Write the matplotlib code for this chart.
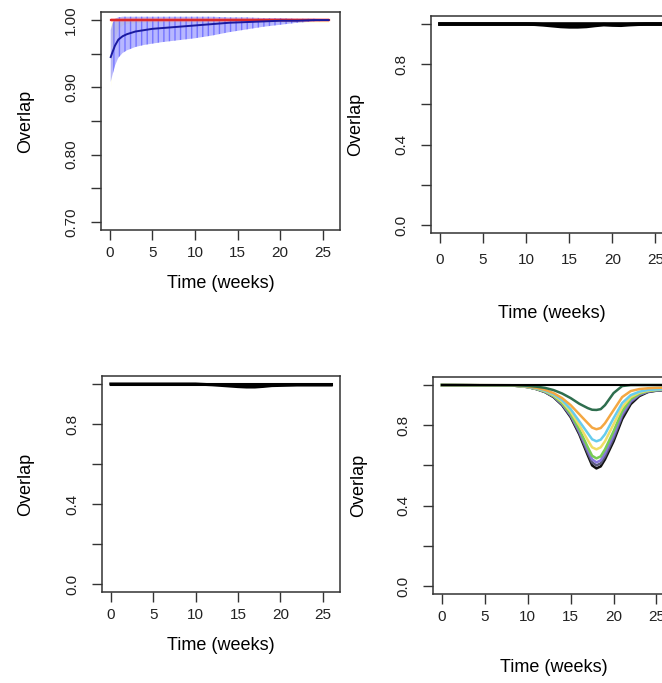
import matplotlib
matplotlib.use("Agg")
import matplotlib.pyplot as plt

plt.rcParams["font.family"] = ["Liberation Sans", "DejaVu Sans"]

W, H = 662, 683

# ── top-left: mean overlap with band, reference at 1 ──
tl_t    = [0.1, 0.3, 0.6, 1, 1.5, 2, 3, 4, 5, 6, 8, 10, 12, 14, 16, 18, 20, 22, 24, 25.7]
tl_mean = [0.945, 0.952, 0.962, 0.971, 0.976, 0.979, 0.983, 0.985, 0.987, 0.988,
           0.990, 0.992, 0.994, 0.996, 0.997, 0.998, 0.999, 0.999, 1.0, 1.0]
tl_lo   = [0.908, 0.918, 0.932, 0.944, 0.951, 0.955, 0.960, 0.963, 0.965, 0.967,
           0.970, 0.973, 0.977, 0.982, 0.986, 0.990, 0.993, 0.996, 0.998, 0.999]
tl_hi   = [0.985, 0.995, 1.002, 1.004, 1.005, 1.005, 1.005, 1.005, 1.005, 1.005,
           1.005, 1.005, 1.005, 1.004, 1.004, 1.003, 1.003, 1.002, 1.002, 1.001]
tl_ref    = [1.0] * 20
tl_ref_lo = [0.900, 0.950, 0.975, 0.988, 0.993, 0.995, 0.996, 0.997, 0.997, 0.997,
             0.997, 0.997, 0.997, 0.997, 0.997, 0.997, 0.997, 0.997, 0.997, 0.997]
tl_band_lo = [0.997] * 20
tl_band_hi = [1.003] * 20

# ── top-right / bottom-left: overlapping black curves near 1 ──
flat_t = [0, 5, 10, 11, 12, 13, 14, 15, 16, 17, 18, 19, 20, 21, 22, 23, 24, 26]
flat_a = [1.0] * 18
tr_b = [1.0, 1.0, 1.0, 0.999, 0.996, 0.992, 0.988, 0.986, 0.986, 0.988, 0.993, 0.997,
        0.995, 0.994, 0.997, 0.999, 1.0, 1.0]
bl_b = [1.0, 1.0, 1.0, 0.998, 0.996, 0.993, 0.990, 0.987, 0.985, 0.985, 0.988, 0.992,
        0.993, 0.994, 0.995, 0.995, 0.995, 0.995]

# ── bottom-right: dips around week 17-18 ──
br_t = [0, 8, 9, 10, 11, 12, 13, 14, 15, 16, 17, 17.5, 18, 18.5, 19, 20, 21, 22, 23, 24, 25, 26]
br_curves = {
    "#111111": [1.0, .998, .995, .990, .980, .965, .940, .900, .840, .755, .650, .600, .585, .595,
                .630, .720, .830, .905, .945, .965, .972, .975],
    "#5a5a7a": [1.0, .998, .995, .990, .980, .966, .942, .903, .845, .762, .662, .615, .600, .610,
                .645, .735, .845, .915, .950, .967, .973, .976],
    "#8877dd": [1.0, .998, .995, .990, .981, .967, .944, .906, .850, .770, .675, .630, .615, .625,
                .660, .750, .855, .920, .953, .968, .974, .977],
    "#77cc55": [1.0, .998, .995, .990, .981, .968, .946, .910, .856, .780, .690, .648, .635, .645,
                .680, .770, .870, .930, .957, .970, .975, .978],
    "#eedd66": [1.0, .998, .995, .990, .982, .970, .950, .918, .868, .800, .725, .690, .680, .690,
                .720, .805, .890, .940, .962, .972, .977, .979],
    "#66ccee": [1.0, .998, .996, .991, .983, .972, .954, .925, .880, .820, .760, .730, .720, .728,
                .755, .835, .910, .950, .967, .975, .978, .980],
    "#f4a742": [1.0, .999, .997, .993, .986, .976, .960, .935, .900, .855, .810, .788, .780, .786,
                .810, .875, .940, .970, .980, .984, .986, .987],
    "#2e6e4e": [1.0, .999, .998, .996, .992, .986, .975, .958, .935, .907, .885, .877, .876, .880,
                .900, .960, .995, 1.0, 1.0, 1.0, 1.0, 1.0],
}
br_ref = [1.0] * 22

x_ticks = [0, 5, 10, 15, 20, 25]
tl_yticks = [0.70, 0.75, 0.80, 0.85, 0.90, 0.95, 1.00]
tl_ylabels = ["0.70", "", "0.80", "", "0.90", "", "1.00"]
yticks = [0.0, 0.2, 0.4, 0.6, 0.8, 1.0]
ylabels = ["0.0", "", "0.4", "", "0.8", ""]

fig = plt.figure(figsize=(W / 100, H / 100), dpi=100)


def make_ax(l, t, r, b):
    return fig.add_axes([l / W, 1 - b / H, (r - l) / W, (b - t) / H])


def style(ax, box, ylim, yt, yl, xpad, xlab_y, ylab_x):
    l, t, r, b = box
    ax.set_xlim(-1.04, 27.04)
    ax.set_ylim(*ylim)
    ax.set_xticks(x_ticks)
    ax.set_yticks(yt)
    ax.set_yticklabels(yl)
    for s in ax.spines.values():
        s.set_color("#333333")
        s.set_linewidth(1.1)
    ax.tick_params(length=7.5, width=1.0, color="#333333", labelsize=11,
                   labelcolor="#222222")
    ax.tick_params(axis="x", pad=xpad)
    ax.tick_params(axis="y", labelrotation=90, pad=9)
    for lab in ax.get_yticklabels():
        lab.set_va("center")
    ax.set_xlabel("Time (weeks)", fontsize=13)
    ax.set_ylabel("Overlap", fontsize=13)
    ax.xaxis.set_label_coords(0.5, -(xlab_y - 9 - b) / (b - t))
    ax.yaxis.set_label_coords(-(l - ylab_x - 9) / (r - l), 0.5)


# top-left
box = (101, 12, 340, 230)
ax = make_ax(*box)
ax.fill_between(tl_t, tl_ref_lo, tl_ref, color="#ffff99", alpha=0.4, lw=0)
ax.fill_between(tl_t, tl_lo, tl_hi, facecolor="#7070ff", alpha=0.5, lw=0)
ax.fill_between(tl_t, tl_lo, tl_hi, facecolor="none", edgecolor="#5a5aff",
                hatch="|||", lw=0, alpha=0.7)
ax.fill_between(tl_t, tl_band_lo, tl_band_hi, color="#ff6060", alpha=0.35, lw=0)
ax.plot(tl_t, tl_ref, color="#dd2a2a", lw=1.6)
ax.plot(tl_t, tl_mean, color="#1a1aa0", lw=1.4)
style(ax, box, (0.688, 1.012), tl_yticks, tl_ylabels, 4, 284, 25)

# top-right
box = (431, 16, 673, 233)
ax = make_ax(*box)
ax.plot(flat_t, flat_a, color="black", lw=2.6)
ax.plot(flat_t, tr_b, color="black", lw=2.6)
style(ax, box, (-0.04, 1.04), yticks, ylabels, 7, 314, 355)

# bottom-left
box = (102, 376, 340, 592)
ax = make_ax(*box)
ax.plot(flat_t, flat_a, color="black", lw=2.2)
ax.plot(flat_t, bl_b, color="black", lw=2.2)
style(ax, box, (-0.04, 1.04), yticks, ylabels, 4, 646, 25)

# bottom-right
box = (433, 377, 674, 594)
ax = make_ax(*box)
for col, vals in br_curves.items():
    ax.plot(br_t, vals, color=col, lw=1.8)
ax.plot(br_t, br_ref, color="black", lw=1.5)
style(ax, box, (-0.04, 1.04), yticks, ylabels, 4, 668, 358)

plt.savefig("out.png", dpi=100)
